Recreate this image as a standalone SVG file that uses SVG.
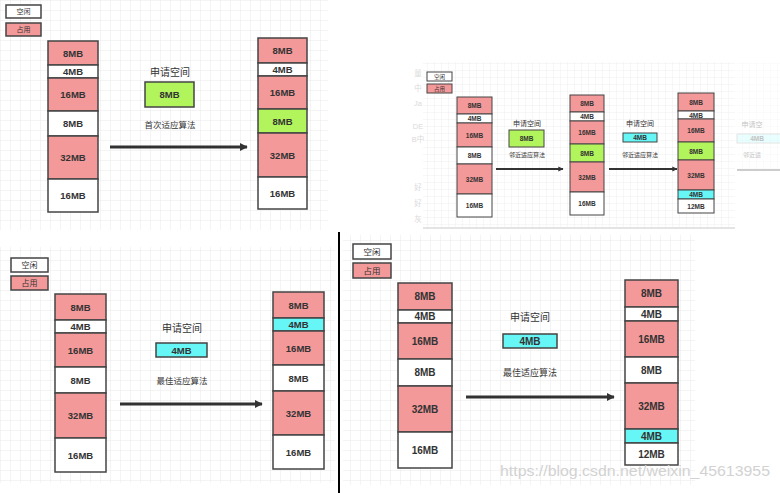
<svg xmlns="http://www.w3.org/2000/svg" width="780" height="493" viewBox="0 0 780 493">
<style>
text{font-family:"Liberation Sans","Noto Sans CJK SC",sans-serif;text-anchor:middle;dominant-baseline:central;fill:#333}
.mb{font-weight:bold;font-size:9.5px}
.mbs{font-weight:bold;font-size:6.5px}
.cn{font-size:10px}
.cn2{font-size:8.5px}
.cns{font-size:7px}
.occ{fill:#f4999a;stroke:#444;stroke-width:1.5}
.free{fill:#fff;stroke:#444;stroke-width:1.5}
.grn{fill:#b2f45c;stroke:#444;stroke-width:1.5}
.cyn{fill:#66f6f6;stroke:#444;stroke-width:1.5}
.s{stroke-width:1}
.arr{stroke:#333;stroke-width:3;fill:none}
.arr2{stroke:#333;stroke-width:2;fill:none}
.ghost{fill:#dadada;font-size:7.5px}
</style>
<defs>
<pattern id="g10" width="10" height="10" patternUnits="userSpaceOnUse"><path d="M10 0H0V10" fill="none" stroke="#e9e9e9" stroke-width="1"/></pattern>
<pattern id="g7" width="7" height="7" patternUnits="userSpaceOnUse"><path d="M7 0H0V7" fill="none" stroke="#ececec" stroke-width="0.8"/></pattern>
<marker id="ah" viewBox="0 0 10 10" refX="9" refY="5" markerWidth="2.6" markerHeight="2.6" orient="auto"><path d="M0 0L10 5L0 10Z" fill="#333"/></marker>
</defs>
<rect width="780" height="493" fill="#fff"/>
<!-- backgrounds -->
<rect x="0" y="0" width="328" height="230" fill="url(#g10)"/>
<rect x="423" y="62" width="312" height="166" fill="url(#g7)"/>
<rect x="737" y="62" width="43" height="110" fill="url(#g7)" opacity="0.5"/>
<line x1="423" y1="228" x2="735" y2="228" stroke="#e4e4e4" stroke-width="2"/>
<rect x="0" y="247" width="335" height="236" fill="url(#g10)"/>
<rect x="343" y="235" width="352" height="250" fill="url(#g10)"/>
<line x1="339" y1="232" x2="339" y2="493" stroke="#000" stroke-width="2"/>
<!-- ghost texts panel 2 -->
<g id="ghost-left">
<text class="ghost" x="418" y="73">量</text>
<text class="ghost" x="418" y="88">中</text>
<text class="ghost" x="418" y="103">Ja</text>
<text class="ghost" x="418" y="126">DE</text>
<text class="ghost" x="418" y="139">B中</text>
<text class="ghost" x="418" y="187">好</text>
<text class="ghost" x="418" y="203">好</text>
<text class="ghost" x="418" y="219">灰</text>
</g>

<!-- ================= Panel 1 ================= -->
<g id="p1-legend-free"><rect class="free" x="6" y="5" width="35" height="13"/><text class="cns" x="23.5" y="11.5">空闲</text></g>
<g id="p1-legend-occ"><rect class="occ" x="6" y="23" width="35" height="13"/><text class="cns" x="23.5" y="29.5">占用</text></g>
<g id="p1-before">
<rect class="occ" x="48" y="41" width="50" height="24"/><text class="mb" x="73" y="53">8MB</text>
<rect class="free" x="48" y="65" width="50" height="13"/><text class="mb" x="73" y="71.5">4MB</text>
<rect class="occ" x="48" y="78" width="50" height="33"/><text class="mb" x="73" y="94.5">16MB</text>
<rect class="free" x="48" y="111" width="50" height="25"/><text class="mb" x="73" y="123.5">8MB</text>
<rect class="occ" x="48" y="136" width="50" height="43"/><text class="mb" x="73" y="157.5">32MB</text>
<rect class="free" x="48" y="179" width="50" height="33"/><text class="mb" x="73" y="195.5">16MB</text>
</g>
<g id="p1-request">
<text class="cn" x="170" y="72">申请空间</text>
<rect class="grn" x="145" y="82" width="49" height="25"/><text class="mb" x="169.5" y="94.5">8MB</text>
<text class="cn2" x="170" y="125">首次适应算法</text>
</g>
<g id="p1-after">
<rect class="occ" x="258" y="38" width="49" height="25"/><text class="mb" x="282.5" y="50.5">8MB</text>
<rect class="free" x="258" y="63" width="49" height="13"/><text class="mb" x="282.5" y="69.5">4MB</text>
<rect class="occ" x="258" y="76" width="49" height="33"/><text class="mb" x="282.5" y="92.5">16MB</text>
<rect class="grn" x="258" y="109" width="49" height="24"/><text class="mb" x="282.5" y="121">8MB</text>
<rect class="occ" x="258" y="133" width="49" height="44"/><text class="mb" x="282.5" y="155">32MB</text>
<rect class="free" x="258" y="177" width="49" height="32"/><text class="mb" x="282.5" y="193">16MB</text>
</g>

<!-- ================= Panel 2 ================= -->
<g id="p2-legend-free"><rect class="free s" x="427" y="72" width="25" height="9"/><text class="cns" style="font-size:5.5px" x="439.5" y="76.5">空闲</text></g>
<g id="p2-legend-occ"><rect class="occ s" x="427" y="84" width="25" height="9"/><text class="cns" style="font-size:5.5px" x="439.5" y="88.5">占用</text></g>
<g id="p2-before">
<rect class="occ s" x="457" y="97" width="35" height="17"/><text class="mbs" x="474.5" y="105.5">8MB</text>
<rect class="free s" x="457" y="114" width="35" height="9"/><text class="mbs" x="474.5" y="118.5">4MB</text>
<rect class="occ s" x="457" y="123" width="35" height="24"/><text class="mbs" x="474.5" y="135">16MB</text>
<rect class="free s" x="457" y="147" width="35" height="17"/><text class="mbs" x="474.5" y="155.5">8MB</text>
<rect class="occ s" x="457" y="164" width="35" height="30"/><text class="mbs" x="474.5" y="179">32MB</text>
<rect class="free s" x="457" y="194" width="35" height="23"/><text class="mbs" x="474.5" y="205.5">16MB</text>
</g>
<g id="p2-request1">
<text class="cns" x="527" y="123">申请空间</text>
<rect class="grn s" x="509" y="130" width="35" height="17"/><text class="mbs" x="526.5" y="138.5">8MB</text>
<text class="cns" style="font-size:6px" x="527" y="155">邻近适应算法</text>
</g>
<g id="p2-middle">
<rect class="occ s" x="570" y="95" width="34" height="17"/><text class="mbs" x="587" y="103.5">8MB</text>
<rect class="free s" x="570" y="112" width="34" height="9"/><text class="mbs" x="587" y="116.5">4MB</text>
<rect class="occ s" x="570" y="121" width="34" height="23"/><text class="mbs" x="587" y="132.5">16MB</text>
<rect class="grn s" x="570" y="144" width="34" height="18"/><text class="mbs" x="587" y="153">8MB</text>
<rect class="occ s" x="570" y="162" width="34" height="30"/><text class="mbs" x="587" y="177">32MB</text>
<rect class="free s" x="570" y="192" width="34" height="23"/><text class="mbs" x="587" y="203.5">16MB</text>
</g>
<g id="p2-request2">
<text class="cns" x="640" y="123">申请空间</text>
<rect class="cyn s" x="623" y="133" width="34" height="9"/><text class="mbs" x="640" y="137.5">4MB</text>
<text class="cns" style="font-size:6px" x="640" y="155">邻近适应算法</text>
</g>
<g id="p2-after">
<rect class="occ s" x="678" y="93" width="36" height="18"/><text class="mbs" x="696" y="102">8MB</text>
<rect class="free s" x="678" y="111" width="36" height="8"/><text class="mbs" x="696" y="115">4MB</text>
<rect class="occ s" x="678" y="119" width="36" height="23"/><text class="mbs" x="696" y="130.5">16MB</text>
<rect class="grn s" x="678" y="142" width="36" height="18"/><text class="mbs" x="696" y="151">8MB</text>
<rect class="occ s" x="678" y="160" width="36" height="30"/><text class="mbs" x="696" y="175">32MB</text>
<rect class="cyn s" x="678" y="190" width="36" height="9"/><text class="mbs" x="696" y="194.5">4MB</text>
<rect class="free s" x="678" y="199" width="36" height="14"/><text class="mbs" x="696" y="206">12MB</text>
</g>
<g id="p2-faded" opacity="0.3">
<text class="cns" x="752" y="124">申请空</text>
<rect x="737" y="134" width="50" height="9" fill="#b8ffff" stroke="#aaa" stroke-width="1"/><text class="mbs" x="757" y="138.5">4MB</text>
<text class="cns" style="font-size:6px" x="752" y="155">邻近适</text>
</g>

<!-- ================= Panel 3 ================= -->
<g id="p3-legend-free"><rect class="free" x="11" y="258" width="37" height="14"/><text class="cns" style="font-size:8px" x="29.5" y="265">空闲</text></g>
<g id="p3-legend-occ"><rect class="occ" x="11" y="276" width="37" height="14"/><text class="cns" style="font-size:8px" x="29.5" y="283">占用</text></g>
<g id="p3-before">
<rect class="occ" x="55" y="294" width="51" height="26"/><text class="mb" x="80.5" y="307">8MB</text>
<rect class="free" x="55" y="320" width="51" height="13"/><text class="mb" x="80.5" y="326.5">4MB</text>
<rect class="occ" x="55" y="333" width="51" height="34"/><text class="mb" x="80.5" y="350">16MB</text>
<rect class="free" x="55" y="367" width="51" height="26"/><text class="mb" x="80.5" y="380">8MB</text>
<rect class="occ" x="55" y="393" width="51" height="45"/><text class="mb" x="80.5" y="415.5">32MB</text>
<rect class="free" x="55" y="438" width="51" height="34"/><text class="mb" x="80.5" y="455">16MB</text>
</g>
<g id="p3-request">
<text class="cn" x="182" y="328">申请空间</text>
<rect class="cyn" x="156" y="343" width="51" height="14"/><text class="mb" x="181.5" y="350">4MB</text>
<text class="cn2" x="182" y="381">最佳适应算法</text>
</g>
<g id="p3-after">
<rect class="occ" x="273" y="292" width="51" height="26"/><text class="mb" x="298.5" y="305">8MB</text>
<rect class="cyn" x="273" y="318" width="51" height="13"/><text class="mb" x="298.5" y="324.5">4MB</text>
<rect class="occ" x="273" y="331" width="51" height="34"/><text class="mb" x="298.5" y="348">16MB</text>
<rect class="free" x="273" y="365" width="51" height="26"/><text class="mb" x="298.5" y="378">8MB</text>
<rect class="occ" x="273" y="391" width="51" height="44"/><text class="mb" x="298.5" y="413">32MB</text>
<rect class="free" x="273" y="435" width="51" height="34"/><text class="mb" x="298.5" y="452">16MB</text>
</g>

<!-- ================= Panel 4 ================= -->
<g id="p4-legend-free"><rect class="free" x="353" y="244" width="38" height="15"/><text class="cns" style="font-size:8.5px" x="372" y="251.5">空闲</text></g>
<g id="p4-legend-occ"><rect class="occ" x="353" y="263" width="38" height="15"/><text class="cns" style="font-size:8.5px" x="372" y="270.5">占用</text></g>
<g id="p4-before">
<rect class="occ" x="398" y="283" width="54" height="27"/><text class="mb" style="font-size:10px" x="425" y="296.5">8MB</text>
<rect class="free" x="398" y="310" width="54" height="13"/><text class="mb" style="font-size:10px" x="425" y="316.5">4MB</text>
<rect class="occ" x="398" y="323" width="54" height="36"/><text class="mb" style="font-size:10px" x="425" y="341">16MB</text>
<rect class="free" x="398" y="359" width="54" height="27"/><text class="mb" style="font-size:10px" x="425" y="372.5">8MB</text>
<rect class="occ" x="398" y="386" width="54" height="46"/><text class="mb" style="font-size:10px" x="425" y="409">32MB</text>
<rect class="free" x="398" y="432" width="54" height="36"/><text class="mb" style="font-size:10px" x="425" y="450">16MB</text>
</g>
<g id="p4-request">
<text class="cn" x="530" y="317">申请空间</text>
<rect class="cyn" x="503" y="334" width="54" height="14"/><text class="mb" style="font-size:10px" x="530" y="341">4MB</text>
<text class="cn2" style="font-size:9px" x="530" y="373">最佳适应算法</text>
</g>
<g id="p4-after">
<rect class="occ" x="625" y="280" width="53" height="27"/><text class="mb" style="font-size:10px" x="651.5" y="293.5">8MB</text>
<rect class="free" x="625" y="307" width="53" height="14"/><text class="mb" style="font-size:10px" x="651.5" y="314">4MB</text>
<rect class="occ" x="625" y="321" width="53" height="36"/><text class="mb" style="font-size:10px" x="651.5" y="339">16MB</text>
<rect class="free" x="625" y="357" width="53" height="26"/><text class="mb" style="font-size:10px" x="651.5" y="370">8MB</text>
<rect class="occ" x="625" y="383" width="53" height="46"/><text class="mb" style="font-size:10px" x="651.5" y="406">32MB</text>
<rect class="cyn" x="625" y="429" width="53" height="14"/><text class="mb" style="font-size:10px" x="651.5" y="436">4MB</text>
<rect class="free" x="625" y="443" width="53" height="22"/><text class="mb" style="font-size:10px" x="651.5" y="454">12MB</text>
</g>

<!-- connectors -->
<g id="connectors">
<line class="arr" x1="110" y1="147" x2="247" y2="147" marker-end="url(#ah)"/>
<line class="arr2" x1="496" y1="169" x2="563" y2="169" marker-end="url(#ah)"/>
<line class="arr2" x1="609" y1="169" x2="677" y2="169" marker-end="url(#ah)"/>
<line x1="737" y1="170" x2="780" y2="170" stroke="#ccc" stroke-width="2"/>
<line class="arr" x1="120" y1="404" x2="262" y2="404" marker-end="url(#ah)"/>
<line class="arr" x1="466" y1="397" x2="614" y2="397" marker-end="url(#ah)"/>
</g>

<text x="635" y="470" style="font-size:15px;fill:#d2d2d2" textLength="270" lengthAdjust="spacingAndGlyphs">https://blog.csdn.net/weixin_45613955</text>
</svg>
